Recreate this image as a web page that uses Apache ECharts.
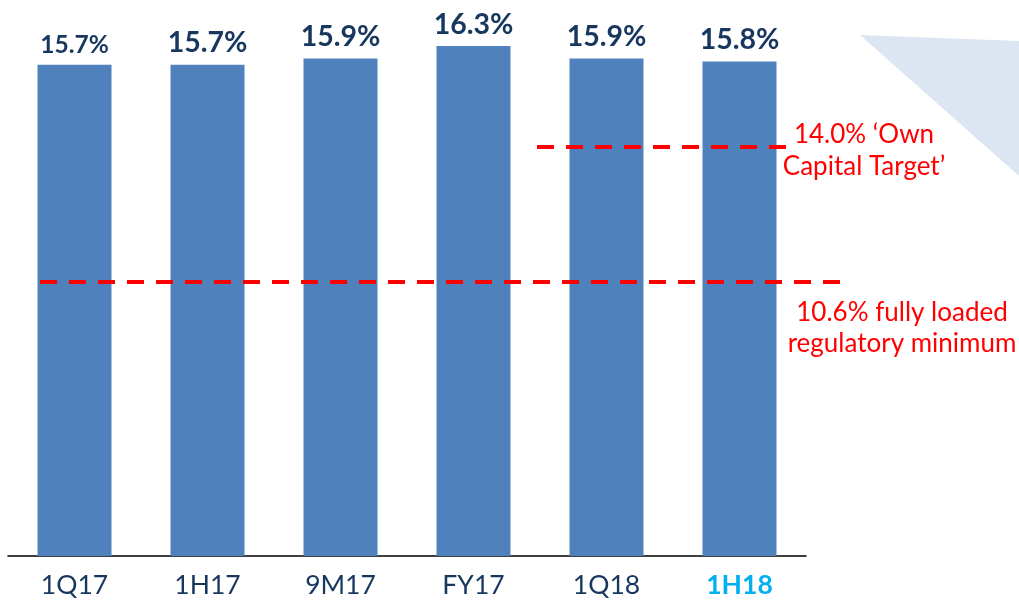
<!DOCTYPE html>
<html>
<head>
<meta charset="utf-8">
<script src="https://cdn.jsdelivr.net/npm/echarts@6/dist/echarts.min.js"></script>
<style>
  html, body { margin: 0; padding: 0; background: #fff; }
  #chart { width: 1019px; height: 602px; }
</style>
</head>
<body>
<div id="chart"></div>
<script>
// 数据
const categories = ['1Q17', '1H17', '9M17', 'FY17', '1Q18', '1H18']
const ratioValues = [15.7, 15.7, 15.9, 16.3, 15.9, 15.8]
const ownCapitalTarget = 14.0
const regulatoryMinimum = 10.6

const navy = '#17375E'
const red = '#FF0000'

const chart = echarts.init(document.getElementById('chart'))

const barData = ratioValues.map((v, i) => ({
  value: v,
  // 第一个标签略小（原图如此）
  label: i === 0 ? { fontSize: 24.5 } : {}
}))

const option = {
  animation: false,
  grid: { left: 8, right: 213, top: 24, bottom: 46 },
  xAxis: {
    type: 'category',
    data: categories,
    axisLine: { lineStyle: { color: '#000', width: 1.5 } },
    axisTick: { show: false },
    axisLabel: {
      interval: 0,
      hideOverlap: false,
      margin: 16,
      fontSize: 26.5,
      fontFamily: 'Lato',
      color: navy,
      formatter: (v) => v === '1H18' ? '{hl|' + v + '}' : v,
      rich: { hl: { fontSize: 26.5, fontFamily: 'Lato', fontWeight: 'bold', color: '#00B0F0' } }
    }
  },
  yAxis: [
    { type: 'value', min: 0, max: 17, show: false },
    // 参考线用的副轴
    { type: 'value', min: 3.7, max: 17.1, show: false }
  ],
  series: [
    {
      type: 'bar',
      data: barData,
      barWidth: 74,
      itemStyle: { color: '#4F81BD' },
      label: {
        show: true,
        position: 'top',
        distance: 7,
        fontSize: 28.5,
        fontWeight: 'bold',
        fontFamily: 'Lato',
        color: navy,
        formatter: (p) => p.value.toFixed(1) + '%'
      }
    },
    {
      type: 'line',
      yAxisIndex: 1,
      data: [],
      markLine: {
        silent: true,
        symbol: 'none',
        label: { show: false },
        lineStyle: { color: red, width: 4, type: [17, 12] },
        data: [
          [{ yAxis: ownCapitalTarget, x: 537 }, { yAxis: ownCapitalTarget, x: 790 }],
          [{ yAxis: regulatoryMinimum, x: 40 }, { yAxis: regulatoryMinimum, x: 843 }]
        ]
      }
    }
  ],
  graphic: [
    {
      type: 'polygon',
      z: -1,
      shape: { points: [[860, 35], [1019, 41], [1019, 176]] },
      style: { fill: '#DCE6F2' }
    },
    {
      type: 'text',
      x: 864, y: 151,
      style: {
        text: ownCapitalTarget.toFixed(1) + '% \u2018Own\nCapital Target\u2019',
        fill: red, fontSize: 26, fontFamily: 'Lato', lineHeight: 32,
        align: 'center', verticalAlign: 'middle'
      }
    },
    {
      type: 'text',
      x: 902, y: 328,
      style: {
        text: regulatoryMinimum.toFixed(1) + '% fully loaded\nregulatory minimum',
        fill: red, fontSize: 26, fontFamily: 'Lato', lineHeight: 31,
        align: 'center', verticalAlign: 'middle'
      }
    }
  ]
}

chart.setOption(option)
</script>
</body>
</html>
